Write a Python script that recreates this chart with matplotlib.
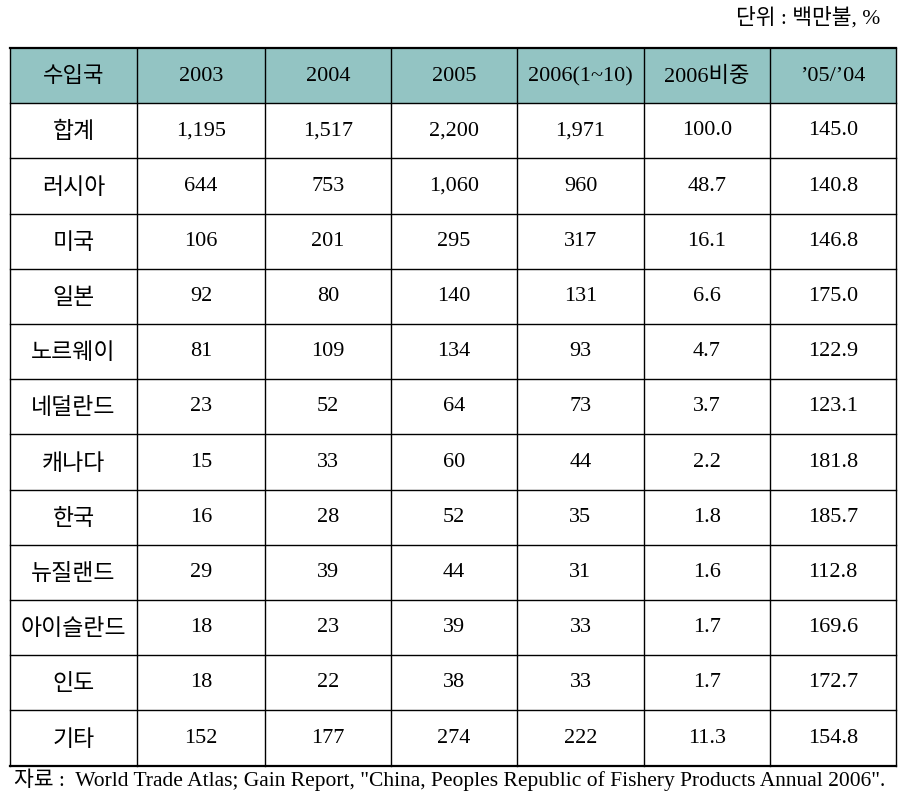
import matplotlib
matplotlib.use('Agg')
import matplotlib.pyplot as plt
from matplotlib.patches import Rectangle

plt.rcParams['font.family'] = ['Liberation Serif', 'Noto Sans CJK KR']

headers = ['수입국', '2003', '2004', '2005', '2006(1~10)', '2006비중', '\u201905/\u201904']
countries = ['합계', '러시아', '미국', '일본', '노르웨이', '네덜란드', '캐나다',
             '한국', '뉴질랜드', '아이슬란드', '인도', '기타']
y2003 = ['1,195', '644', '106', '92', '81', '23', '15', '16', '29', '18', '18', '152']
y2004 = ['1,517', '753', '201', '80', '109', '52', '33', '28', '39', '23', '22', '177']
y2005 = ['2,200', '1,060', '295', '140', '134', '64', '60', '52', '44', '39', '38', '274']
y2006 = ['1,971', '960', '317', '131', '93', '73', '44', '35', '31', '33', '33', '222']
share2006 = ['100.0', '48.7', '16.1', '6.6', '4.7', '3.7', '2.2', '1.8', '1.6', '1.7', '1.7', '11.3']
ratio = ['145.0', '140.8', '146.8', '175.0', '122.9', '123.1', '181.8',
         '185.7', '112.8', '169.6', '172.7', '154.8']

unit_text = '단위 : 백만불, %'
source_text = '자료 :  World Trade Atlas; Gain Report, "China, Peoples Republic of Fishery Products Annual 2006".'

W, H = 907, 797
fig = plt.figure(figsize=(W / 100, H / 100), dpi=100)
ax = fig.add_axes([0, 0, 1, 1])
ax.set_xlim(0, W)
ax.set_ylim(H, 0)
ax.axis('off')

col_x = [10, 137, 265, 391, 517, 644, 770, 896]
top, row_h = 48, 55.2
columns = [countries, y2003, y2004, y2005, y2006, share2006, ratio]
n_rows = len(countries) + 1
bottom = top + n_rows * row_h

# header background
ax.add_patch(Rectangle((col_x[0], top), col_x[-1] - col_x[0], row_h,
                       facecolor='#93C4C3', edgecolor='none'))

# grid lines
for i in range(n_rows + 1):
    y = top + i * row_h
    lw = 1.6 if i in (0, n_rows) else 1.0
    ax.plot([col_x[0], col_x[-1]], [y, y], color='black', lw=lw)
for j, x in enumerate(col_x):
    ax.plot([x, x], [top, bottom], color='black', lw=1.0)

fs = 16
for j, h in enumerate(headers):
    cx = (col_x[j] + col_x[j + 1]) / 2
    ax.text(cx, top + row_h / 2 + 1, h, ha='center', va='center', fontsize=fs)

for j, col in enumerate(columns):
    cx = (col_x[j] + col_x[j + 1]) / 2
    for i, val in enumerate(col):
        cy = top + (i + 1) * row_h + row_h / 2
        if j == 0:
            ax.text(cx, cy + 2, val, ha='center', va='center', fontsize=16.5)
        else:
            ax.text(cx, cy, val, ha='center', va='center', fontsize=fs)

ax.text(880, 18, unit_text, ha='right', va='center', fontsize=15.5)
ax.text(14, 780, source_text, ha='left', va='center', fontsize=15.5)

fig.savefig('out.png', dpi=100)
